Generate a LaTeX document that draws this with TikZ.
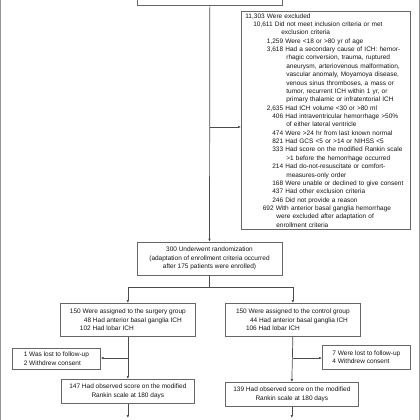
\documentclass[tikz,border=0pt]{standalone}
\usepackage{fontspec}
\setmainfont{Liberation Sans}
\usetikzlibrary{arrows.meta}
\definecolor{boxc}{gray}{0.40}
\definecolor{linec}{gray}{0.30}
\definecolor{txtc}{gray}{0.08}
\newcommand\en[3]{\mbox{\makebox[#1pt][r]{#2\ }#3}\\}
\newcommand\ct[2]{\mbox{\hspace*{#1pt}#2}\\}
\begin{document}
\begin{tikzpicture}[x=1pt,y=-1pt,
  box/.style={draw=boxc, line width=0.7pt, inner sep=0pt, text=txtc,
    font=\fontsize{6.5}{8.36}\selectfont},
  arr/.style={draw=linec, line width=0.7pt, -{Latex[length=3pt,width=2.6pt]}},
  ln/.style={draw=linec, line width=0.7pt},
  edge/.style={draw=gray!85, line width=1pt}]
\useasboundingbox (0,0) rectangle (420,420);
\draw[edge] (0.5,0) -- (0.5,420);
\draw[edge] (419.5,0) -- (419.5,420);

\node[box, anchor=south west, minimum width=145pt, minimum height=40pt] (top) at (137,6) {};

\node[box, anchor=north west, minimum width=169pt, minimum height=218pt,
  text width=161pt, inner xsep=4pt, align=left] (excl) at (241,11) {%
\mbox{11,303 Were excluded}\\
\en{29.5}{10,611}{Did not meet inclusion criteria or met}
\ct{36}{exclusion criteria}
\en{40}{1,259}{Were <18 or >80 yr of age}
\en{40}{3,618}{Had a secondary cause of ICH: hemor-}
\ct{41}{rhagic conversion, trauma, ruptured}
\ct{41}{aneurysm, arteriovenous malformation,}
\ct{41}{vascular anomaly, Moyamoya disease,}
\ct{41}{venous sinus thromboses, a mass or}
\ct{41}{tumor, recurrent ICH within 1 yr, or}
\ct{41}{primary thalamic or infratentorial ICH}
\en{40}{2,635}{Had ICH volume <30 or >80 ml}
\en{40}{406}{Had intraventricular hemorrhage >50\%}
\ct{41}{of either lateral ventricle}
\en{40}{474}{Were >24 hr from last known normal}
\en{40}{821}{Had GCS <5 or >14 or NIHSS <5}
\en{40}{333}{Had score on the modified Rankin scale}
\ct{41}{>1 before the hemorrhage occurred}
\en{40}{214}{Had do-not-resuscitate or comfort-}
\ct{41}{measures-only order}
\en{40}{168}{Were unable or declined to give consent}
\en{40}{437}{Had other exclusion criteria}
\en{40}{246}{Did not provide a reason}
\en{30.5}{692}{With anterior basal ganglia hemorrhage}
\ct{31}{were excluded after adaptation of}
\mbox{\hspace*{31pt}enrollment criteria}};

\node[box, minimum width=145pt, minimum height=33pt, align=center] (rand) at (209.5,258.5)
  {300 Underwent randomization\\(adaptation of enrollment criteria occurred\\after 175 patients were enrolled)};

\node[box, anchor=north west, minimum width=135pt, minimum height=33pt, align=left] (g1) at (60,303)
  {150 Were assigned to the surgery group\\\hspace*{14pt}48 Had anterior basal ganglia ICH\\\hspace*{10pt}102 Had lobar ICH};
\node[box, anchor=north west, minimum width=135pt, minimum height=33pt, align=left] (g2) at (225,303)
  {150 Were assigned to the control group\\\hspace*{14pt}44 Had anterior basal ganglia ICH\\\hspace*{10pt}106 Had lobar ICH};

\node[box, anchor=north west, minimum width=88pt, minimum height=21pt, align=left] (f1) at (12,348)
  {1 Was lost to follow-up\\2 Withdrew consent};
\node[box, anchor=north west, minimum width=88pt, minimum height=24pt, align=left] (f2) at (322,345)
  {7 Were lost to follow-up\\4 Withdrew consent};

\node[box, anchor=north west, minimum width=133pt, minimum height=24pt, align=center] (o1) at (61,379)
  {147 Had observed score on the modified\\Rankin scale at 180 days};
\node[box, anchor=north west, minimum width=133pt, minimum height=24pt, align=center] (o2) at (225,382)
  {139 Had observed score on the modified\\Rankin scale at 180 days};

\coordinate (br) at (top.south |- 0,127);
\draw[arr] (top.south) -- (rand.north);
\draw[arr] (br) -- (br -| excl.west);

\coordinate (sp) at (rand.south |- 0,287);
\draw[ln] (rand.south) -- (sp);
\draw[arr] (sp) -| (g1.north);
\draw[arr] (sp) -| (g2.north);

\draw[arr] (g1.south) -- (o1.north);
\draw[arr] (g2.south) -- (o2.north);
\coordinate (c1) at (g1.south |- 0,358);
\coordinate (c2) at (g2.south |- 0,358);
\draw[arr] (c1) -- (c1 -| f1.east);
\draw[arr] (c2) -- (c2 -| f2.west);

\coordinate (e1) at (o1.south |- 0,418);
\coordinate (e2) at (o2.south |- 0,418);
\draw[arr] (o1.south) -- (e1);
\draw[arr] (o2.south) -- (e2);
\end{tikzpicture}
\end{document}
